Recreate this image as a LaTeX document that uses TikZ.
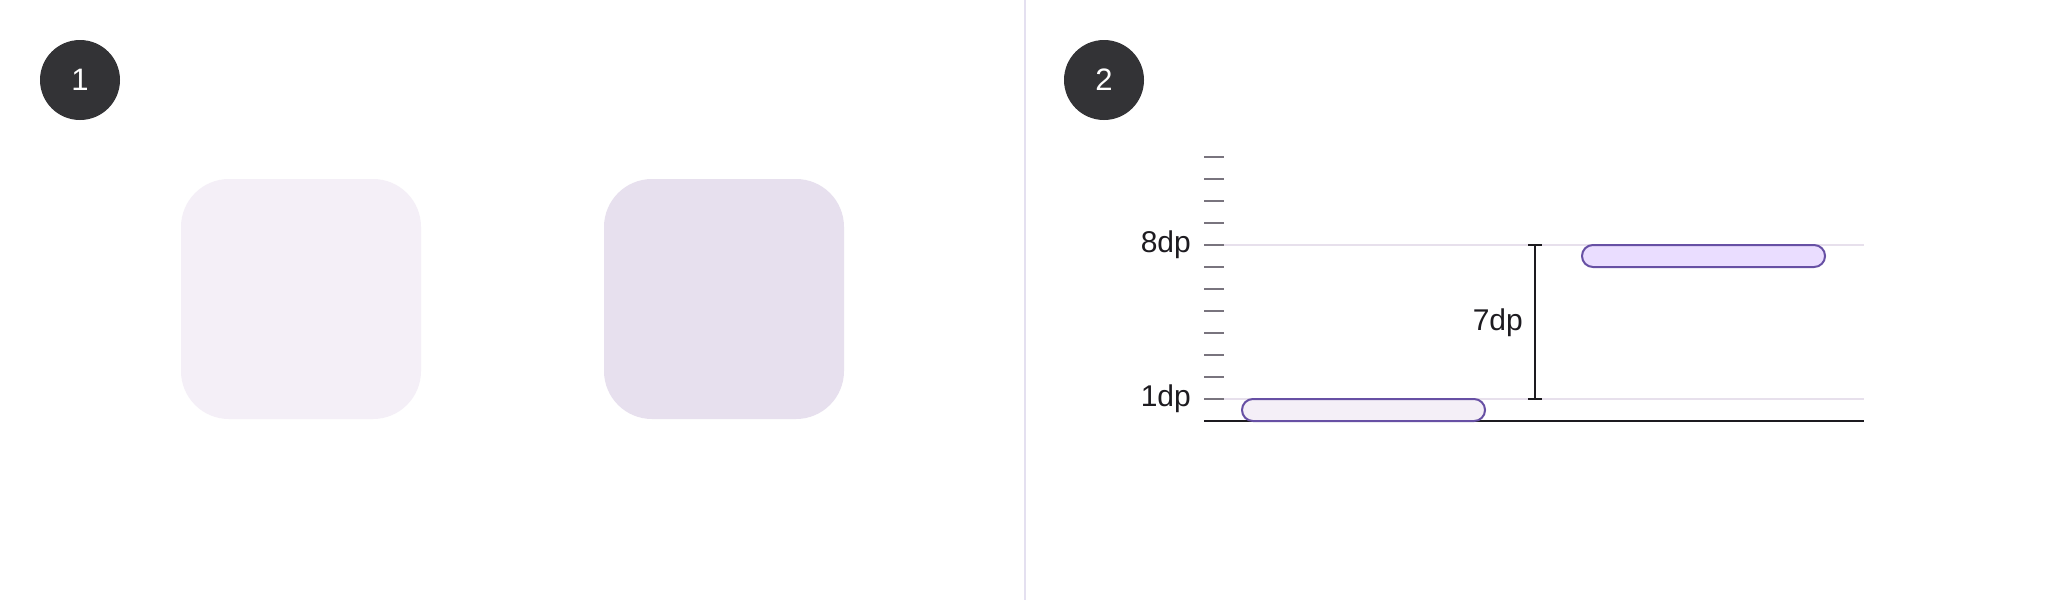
\documentclass[tikz,border=0pt]{standalone}
\usepackage{fontspec}
\setmainfont{Liberation Sans}
\definecolor{badge}{HTML}{333336}
\definecolor{sqone}{HTML}{F4EFF7}
\definecolor{sqtwo}{HTML}{E7E0EE}
\definecolor{divider}{HTML}{E4E0F0}
\definecolor{grid}{HTML}{E7E0EC}
\definecolor{tickc}{HTML}{79747E}
\definecolor{ink}{HTML}{1D1B20}
\definecolor{pillline}{HTML}{6750A4}
\definecolor{pillone}{HTML}{F4EFF7}
\definecolor{pilltwo}{HTML}{EADDFF}
\begin{document}
\begin{tikzpicture}[x=1pt,y=-1pt,
  badgestyle/.style={circle,fill=badge,minimum size=80pt,inner sep=0pt,text=white,font=\fontsize{31}{31}\selectfont},
  lbl/.style={anchor=east,text=ink,inner sep=0pt,font=\fontsize{30}{30}\selectfont},
  tickline/.style={tickc,line width=2pt},
  gridline/.style={grid,line width=2pt},
  pill/.style={draw=pillline,line width=2pt,rounded corners=10.9pt},
  dimline/.style={ink,line width=2pt}]
\useasboundingbox (0,0) rectangle (2048,600);
\fill[white] (0,0) rectangle (2048,600);
% divider
\draw[divider,line width=2pt] (1025,0) -- (1025,600);
% badges
\node[badgestyle] (b1) at (80,80) {1};
\node[badgestyle] (b2) at (1104,80) {2};
% panel 1 squares
\fill[sqone,rounded corners=48pt] (181,179) rectangle (421,419);
\fill[sqtwo,rounded corners=48pt] (604,179) rectangle (844,419);
% grid lines
\draw[gridline] (1224,245) -- (1864,245);
\draw[gridline] (1224,399) -- (1864,399);
% ticks
\foreach \i in {1,...,12} {
  \draw[tickline] (1204,{421-22*\i}) -- (1224,{421-22*\i});
}
% baseline
\draw[ink,line width=2pt] (1204,421) -- (1864,421);
% pills
\draw[pill,fill=pillone] (1242,399) rectangle (1485,421);
\draw[pill,fill=pilltwo] (1582,245) rectangle (1825,267);
% labels
\node[lbl] (l8) at (1191,245) {8dp};
\node[lbl] (l1) at (1191,399) {1dp};
% dimension
\coordinate (dtop) at (1535,245);
\coordinate (dbot) at (1535,399);
\draw[dimline] (dtop) -- (dbot);
\draw[dimline] ([xshift=-7pt]dtop) -- ([xshift=7pt]dtop);
\draw[dimline] ([xshift=-7pt]dbot) -- ([xshift=7pt]dbot);
\node[lbl] (l7) at (1523,323) {7dp};
\end{tikzpicture}
\end{document}
